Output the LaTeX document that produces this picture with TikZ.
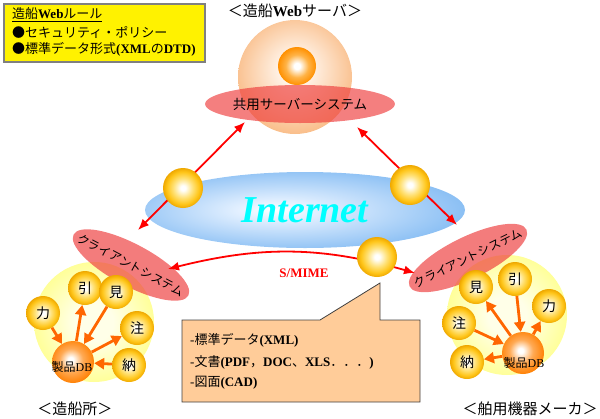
\documentclass[tikz,border=0pt]{standalone}
\usepackage{fontspec}
\setmainfont{Liberation Serif}
\newfontfamily\jpf{Noto Sans CJK JP}
\usepackage{tikz}
\usetikzlibrary{arrows.meta,shapes.geometric}

\definecolor{ylight}{HTML}{FFE27A}
\definecolor{ymain}{HTML}{FFC61A}
\definecolor{yedge}{HTML}{EFA800}
\definecolor{ormid}{HTML}{FFAA55}
\definecolor{oredge}{HTML}{FF7F00}
\definecolor{coremid}{HTML}{FFB347}
\definecolor{coreedge}{HTML}{FF9000}
\definecolor{peachin}{HTML}{FFF2E6}
\definecolor{peachout}{HTML}{F9BB85}
\definecolor{netin}{HTML}{E3F0FF}
\definecolor{netout}{HTML}{8CC0F4}
\definecolor{palein}{HTML}{FFFFE8}
\definecolor{paleout}{HTML}{FFFF99}
\definecolor{netcyan}{HTML}{00FFFF}
\definecolor{srvred}{HTML}{EE3B3B}
\definecolor{clientred}{HTML}{EE4444}
\definecolor{arrowor}{HTML}{FF6600}
\definecolor{callfill}{HTML}{FFCC99}
\definecolor{calledge}{HTML}{404040}

\pgfdeclareradialshading{yball}{\pgfpoint{0bp}{0bp}}{color(0bp)=(white); color(3bp)=(white); color(12bp)=(ylight); color(20bp)=(ymain); color(25bp)=(yedge); color(50bp)=(yedge)}
\pgfdeclareradialshading{dbshade}{\pgfpoint{-3bp}{3bp}}{color(0bp)=(white); color(3bp)=(white); color(14bp)=(ormid); color(27bp)=(oredge); color(50bp)=(oredge)}
\pgfdeclareradialshading{coreshade}{\pgfpoint{0bp}{0bp}}{color(0bp)=(white); color(4bp)=(white); color(15bp)=(coremid); color(25bp)=(coreedge); color(50bp)=(coreedge)}
\pgfdeclareradialshading{peachshade}{\pgfpoint{0bp}{4bp}}{color(0bp)=(peachin); color(7bp)=(peachin); color(28bp)=(peachout); color(50bp)=(peachout)}
\pgfdeclareradialshading{netshade}{\pgfpoint{-5bp}{0bp}}{color(0bp)=(white); color(6bp)=(netin); color(27bp)=(netout); color(50bp)=(netout)}
\pgfdeclareradialshading{paleshade}{\pgfpoint{0bp}{0bp}}{color(0bp)=(palein); color(8bp)=(palein); color(25bp)=(paleout); color(50bp)=(paleout)}

\begin{document}
\begin{tikzpicture}[x=1pt, y=-1pt, every node/.style={inner sep=0pt}]
  \tikzset{netball/.style={circle, minimum size=40, shading=yball}}
  \tikzset{smallball/.style={circle, minimum size=34, shading=yball, font=\fontsize{14}{14}\selectfont\jpf}}
  \tikzset{dbball/.style={circle, minimum size=42, shading=dbshade}}
  \tikzset{client/.style={ellipse, minimum width=130, minimum height=42, fill=clientred, fill opacity=0.7}}
  \tikzset{clienttext/.style={font=\fontsize{12}{12}\selectfont\jpf}}
  \tikzset{redarrow/.style={draw=red, line width=1.8pt, >={Latex[length=11pt,width=9pt]}, <->}}
  \tikzset{orarrow/.style={draw=arrowor, line width=2.8pt, -{Triangle[length=10pt,width=11pt]}}}
  \tikzset{sitename/.style={font=\fontsize{15}{15}\selectfont\jpf}}
  \tikzset{datatext/.style={anchor=west, font=\fontsize{13}{13}\selectfont}}
  \useasboundingbox (0,0) rectangle (600,418);

  % site areas
  \node[circle, minimum size=120, shading=paleshade] (palL) at (94,322) {};
  \node[circle, minimum size=120, shading=paleshade] (palR) at (507,315) {};
  % internet
  \node[ellipse, minimum width=320, minimum height=76, shading=netshade, text=netcyan,
    font=\fontsize{38}{38}\selectfont\bfseries\itshape] (net) at (305,210) {Internet};
  % web server
  \node[circle, minimum size=114, shading=peachshade] (web) at (295,77) {};
  \node[circle, minimum size=38, shading=coreshade] (webcore) at (297,66) {};
  \node[ellipse, minimum width=154, minimum height=38, fill=srvred, fill opacity=0.65, text opacity=1,
    font=\fontsize{13.5}{14}\selectfont\jpf] (srv) at (300,104) {共用サーバーシステム};
  % clients
  \node[client, rotate=-28] (cliL) at (131,265) {};
  \node[clienttext, rotate=-28] (cliLtxt) at (cliL.center) {クライアントシステム};
  \node[client, rotate=26] (cliR) at (468,258) {};
  \node[clienttext, rotate=26] (cliRtxt) at (cliR.center) {クライアントシステム};

  % links
  \coordinate (srvL) at (245,122);
  \coordinate (srvR) at (357,127);
  \coordinate (cliLtop) at (138,230);
  \coordinate (cliRtop) at (457,225);
  \coordinate (cliLend) at (168,269);
  \coordinate (cliRend) at (415,273);
  \draw[redarrow] (srvL) -- (cliLtop);
  \draw[redarrow] (srvR) -- (cliRtop);
  \draw[redarrow] (cliLend) to[bend left=15] (cliRend);
  \node[netball] (nbL) at (183,188) {};
  \node[netball] (nbR) at (410,185) {};
  \node[netball] (nbB) at (377,257) {};
  \node[text=red, font=\fontsize{13}{13}\selectfont\bfseries] (smime) at (304,273) {S/MIME};

  % shipyard
  \node[dbball] (ldb) at (73,362) {};
  \node[smallball] (lka) at (43,313) {力};
  \node[smallball] (lin) at (85,288) {引};
  \node[smallball] (lmi) at (116,292) {見};
  \node[smallball] (lchu) at (137,328) {注};
  \node[smallball] (lno) at (129,365) {納};
  \draw[orarrow] (lka) -- (ldb);
  \draw[orarrow] (ldb) -- (lin);
  \draw[orarrow] (lmi) -- (ldb);
  \draw[orarrow] (ldb) -- (lchu);
  \draw[orarrow] (lno) -- (ldb);
  \node[font=\fontsize{12}{12}\selectfont] (ldbtxt) at (72,367) {{\jpf 製品}DB};

  % equipment maker
  \node[dbball] (rdb) at (523,353) {};
  \node[smallball] (rmi) at (476,287) {見};
  \node[smallball] (rin) at (515,279) {引};
  \node[smallball] (rka) at (549,306) {力};
  \node[smallball] (rchu) at (459,323) {注};
  \node[smallball] (rno) at (467,362) {納};
  \draw[orarrow] (rdb) -- (rmi);
  \draw[orarrow] (rin) -- (rdb);
  \draw[orarrow] (rdb) -- (rka);
  \draw[orarrow] (rchu) -- (rdb);
  \draw[orarrow] (rdb) -- (rno);
  \node[font=\fontsize{12}{12}\selectfont] (rdbtxt) at (524,363) {{\jpf 製品}DB};

  % exchanged data
  \draw[fill=callfill, draw=calledge, line width=0.8pt]
    (182,320) -- (320,320) -- (380,283) -- (380,320) -- (420,320) -- (420,402) -- (182,402) -- cycle;
  \node[datatext] (data1) at (190,340) {-{\jpf 標準データ}\textbf{(XML)}};
  \node[datatext] (data2) at (190,362) {-{\jpf 文書}\textbf{(PDF}{\jpf ，}\textbf{DOC}{\jpf 、}\textbf{XLS}{\jpf ．．．}\textbf{)}};
  \node[datatext] (data3) at (190,383) {-{\jpf 図面}\textbf{(CAD)}};

  % rules
  \node[draw=gray, line width=1.5pt, fill=yellow, minimum width=201, minimum height=58, anchor=north west] (rulebox) at (3,3) {};
  \node[anchor=west, font=\fontsize{13}{13}\selectfont] (rule1) at (12,15) {\underline{{\jpf 造船}\textbf{Web}{\jpf ルール}}};
  \node[anchor=west, font=\fontsize{13}{13}\selectfont\jpf] (rule2) at (12,32) {●セキュリティ・ポリシー};
  \node[anchor=west, font=\fontsize{13}{13}\selectfont] (rule3) at (12,49) {{\jpf ●標準データ形式}\textbf{(XML}{\jpf の}\textbf{DTD)}};

  % site names
  \node[font=\fontsize{15}{15}\selectfont] (ttl) at (295,11) {{\jpf ＜造船}\textbf{Web}{\jpf サーバ＞}};
  \node[sitename] (yard) at (75,409) {＜造船所＞};
  \node[sitename] (maker) at (530,409) {＜舶用機器メーカ＞};
\end{tikzpicture}
\end{document}
